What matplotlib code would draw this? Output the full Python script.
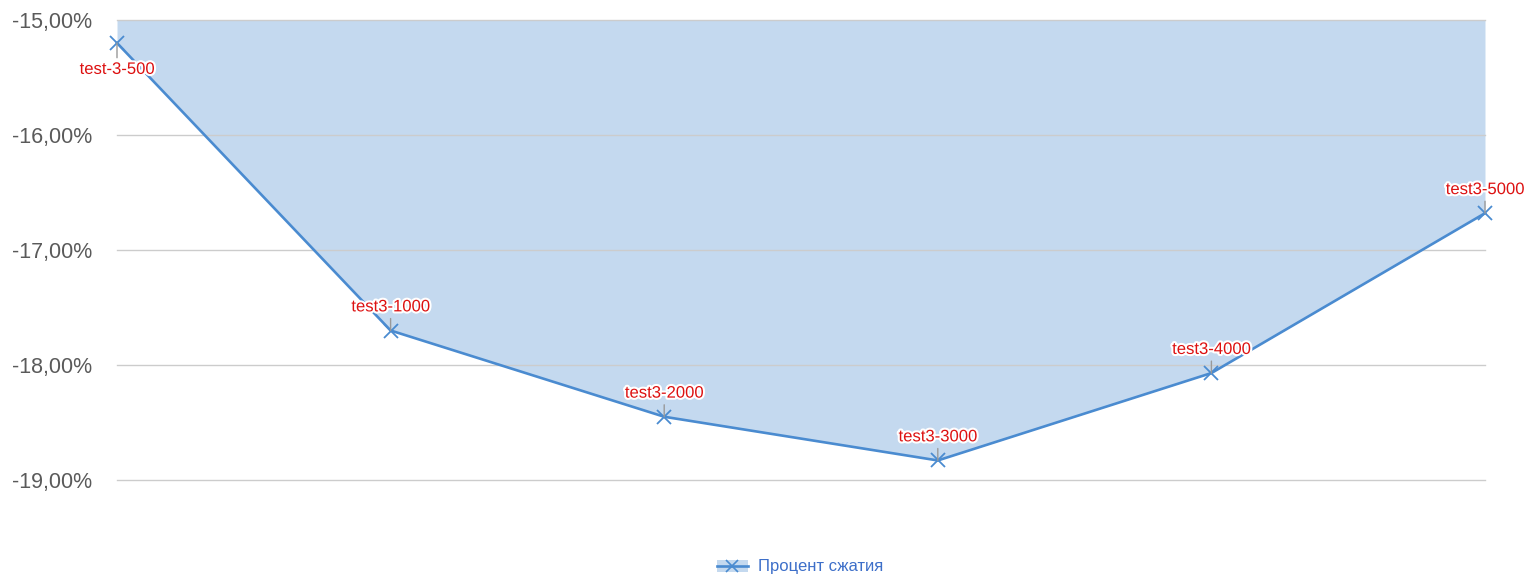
import matplotlib
matplotlib.use("Agg")
import matplotlib.pyplot as plt
import matplotlib.patheffects as pe
from matplotlib.lines import Line2D
from matplotlib.patches import Patch

labels = ["test-3-500", "test3-1000", "test3-2000", "test3-3000", "test3-4000", "test3-5000"]
values = [-15.20, -17.70, -18.45, -18.83, -18.07, -16.68]
yticks = [-15, -16, -17, -18, -19]
series_name = "Процент сжатия"

plt.rcParams['font.family'] = ['Liberation Sans', 'DejaVu Sans']

fig = plt.figure(figsize=(15.28, 5.77), dpi=100)
ax = fig.add_axes([117/1528, (577-480)/577, (1485-117)/1528, (480-20)/577])

x = list(range(len(values)))
line_color = "#4a8bd0"
ax.fill_between(x, values, -15, color=line_color, alpha=0.32, linewidth=0, zorder=1)
ax.plot(x, values, color=line_color, linewidth=1.9, marker="x", markersize=10,
        markeredgewidth=1.3, zorder=3, clip_on=False)

ax.set_xlim(0, len(values) - 1)
ax.set_ylim(-19, -15)
ax.set_yticks(yticks)
ax.set_yticklabels([f"{v:.2f}%".replace(".", ",") for v in yticks])
for s in ax.spines.values():
    s.set_visible(False)
ax.tick_params(axis="y", length=0, labelsize=15.5, labelcolor="#5a5a5a", pad=18)
ax.tick_params(axis="x", length=0, labelbottom=False)
ax.yaxis.grid(True, color="#cccccc", linewidth=1, zorder=2)
ax.set_axisbelow(False)
for gl in ax.get_ygridlines():
    gl.set_clip_on(False)

for i, (lab, v) in enumerate(zip(labels, values)):
    off = -19 if i == 0 else 17
    ax.annotate(lab, xy=(i, v), xytext=(0, off), textcoords="offset points",
                ha="center", va="center", fontsize=12, color="#dd1111",
                path_effects=[pe.withStroke(linewidth=3, foreground="white")],
                arrowprops=dict(arrowstyle="-", color="#999999", lw=1,
                                shrinkA=1, shrinkB=0),
                annotation_clip=False, zorder=5)

handles = [(Patch(facecolor=line_color, alpha=0.32, edgecolor="none"),
            Line2D([], [], color=line_color, linewidth=1.9, marker="x",
                   markersize=8, markeredgewidth=1.2))]
leg = fig.legend(handles, [series_name], loc="center", bbox_to_anchor=(800/1528, (577-567)/577),
                 frameon=False, fontsize=12, handlelength=1.9, handletextpad=0.6)
for t in leg.get_texts():
    t.set_color("#3d6fc9")

fig.savefig("out.png", dpi=100)
